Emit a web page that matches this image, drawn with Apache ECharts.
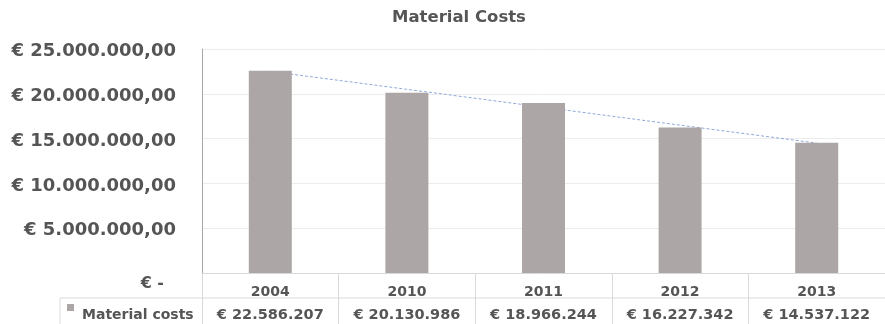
<!DOCTYPE html>
<html><head><meta charset="utf-8">
<script src="https://cdn.jsdelivr.net/npm/echarts@6/dist/echarts.min.js"></script>
<style>html,body{margin:0;padding:0;background:#fff}#c{width:885px;height:324px}</style>
</head><body><div id="c"></div>
<script>
const title = 'Material Costs';
const seriesName = 'Material costs';
const years = ['2004', '2010', '2011', '2012', '2013'];
const materialCosts = [22586207, 20130986, 18966244, 16227342, 14537122];
// linear trendline
const trend = [22500000, 20500000, 18500000, 16500000, 14500000];
const yTicks = [0, 5000000, 10000000, 15000000, 20000000, 25000000];

function dots(v) {
  return String(Math.round(v)).replace(/\B(?=(\d{3})+(?!\d))/g, '.');
}
const FONT = 'DejaVu Sans';
const TXT = '#555555';

const chart = echarts.init(document.getElementById('c'), null, {renderer: 'canvas'});
chart.setOption({
  animation: false,
  title: {text: title, left: 392, top: 9, padding: 0,
    textStyle: {fontFamily: FONT, fontSize: 16.5, fontWeight: 'bold', color: TXT}},
  legend: {left: 67, top: 304, padding: 0, itemWidth: 7, itemHeight: 22, itemGap: 4,
    data: [{name: seriesName, icon: 'path://M0,0h7v7h-7z M0,22h0.01v0.01h-0.01z'}],
    itemStyle: {borderWidth: 0},
    textStyle: {fontFamily: FONT, fontSize: 14, fontWeight: 'bold', color: TXT, padding: [0, 0, 0, 3]}},
  grid: {left: 202, top: 49, width: 688, height: 224, containLabel: false},
  xAxis: {
    type: 'category', data: years,
    axisLine: {lineStyle: {color: '#d9d9d9'}},
    axisTick: {show: true, length: 51, alignWithLabel: false, lineStyle: {color: '#d9d9d9'}},
    axisLabel: {
      margin: 8, interval: 0,
      formatter: (v, i) => '{y|' + v + '}\n{v|€ ' + dots(materialCosts[i]) + '}',
      rich: {
        y: {fontFamily: FONT, fontSize: 14, fontWeight: 'bold', color: TXT, lineHeight: 22},
        v: {fontFamily: FONT, fontSize: 14.5, fontWeight: 'bold', color: TXT, lineHeight: 24}
      }
    }
  },
  yAxis: {
    type: 'value', min: 0, max: 25000000, interval: 5000000,
    axisLine: {show: true, lineStyle: {color: '#a6a6a6'}},
    axisTick: {show: false},
    splitLine: {lineStyle: {color: '#ececec'}},
    axisLabel: {
      margin: 26,
      fontFamily: FONT, fontSize: 18, fontWeight: 'bold', color: TXT,
      padding: [5, 0, 0, 0],
      formatter: v => v === 0 ? '{z|€ -}' : '€ ' + dots(v) + ',00',
      rich: {z: {fontFamily: FONT, fontSize: 16, fontWeight: 'bold', color: TXT, padding: [16, 12, 0, 0]}}
    }
  },
  series: [
    {type: 'line', name: 'trend', data: trend, z: 1, symbol: 'none', silent: true,
      lineStyle: {color: '#8ea9db', width: 1, type: [3, 2]}},
    {type: 'bar', name: seriesName, data: materialCosts, barWidth: 43, z: 2,
      itemStyle: {color: '#aca6a6'}}
  ],
  graphic: [
    {type: 'line', shape: {x1: 60, y1: 298, x2: 885, y2: 298}, style: {stroke: '#d9d9d9', lineWidth: 1}},
    {type: 'line', shape: {x1: 60, y1: 298, x2: 60, y2: 324}, style: {stroke: '#d9d9d9', lineWidth: 1}}
  ]
});
</script></body></html>
